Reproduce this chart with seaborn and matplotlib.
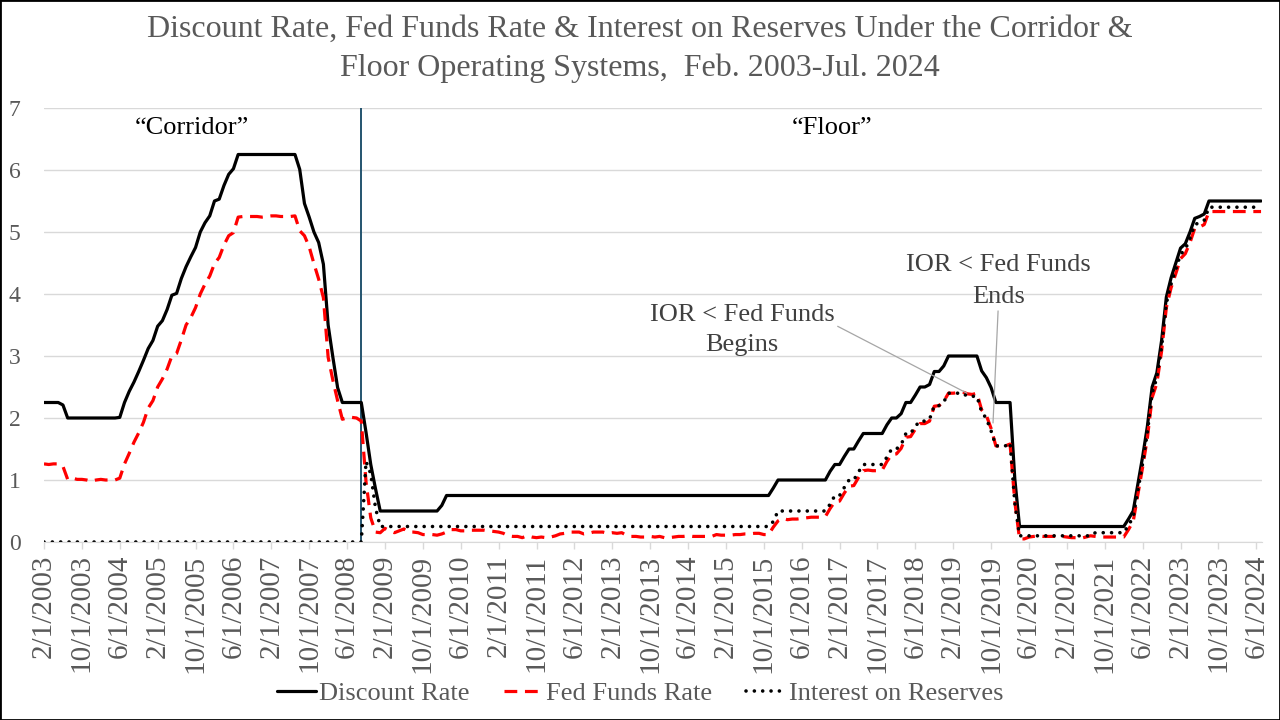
import numpy as np
import pandas as pd
import seaborn as sns
import matplotlib.pyplot as plt
from matplotlib.patches import Rectangle

# monthly averages, Feb 2003 .. Jul 2024
discount = (
    [2.25, 2.25, 2.25, 2.25, 2.21, 2.00, 2.00, 2.00, 2.00, 2.00, 2.00]  # 2003
    + [2.00, 2.00, 2.00, 2.00, 2.00, 2.01, 2.25, 2.43, 2.58, 2.75, 2.93, 3.12]  # 2004
    + [3.25, 3.48, 3.57, 3.75, 3.98, 4.01, 4.25, 4.44, 4.60, 4.75, 5.00, 5.15]  # 2005
    + [5.26, 5.50, 5.53, 5.75, 5.93, 6.02, 6.25, 6.25, 6.25, 6.25, 6.25, 6.25]  # 2006
    + [6.25, 6.25, 6.25, 6.25, 6.25, 6.25, 6.25, 6.01, 5.46, 5.24, 5.00, 4.83]  # 2007
    + [4.48, 3.50, 2.98, 2.49, 2.25, 2.25, 2.25, 2.25, 2.25, 1.77, 1.25, 0.86]  # 2008
    + [0.50] * 12  # 2009
    + [0.50, 0.59] + [0.75] * 10  # 2010
    + [0.75] * 48  # 2011-2014
    + [0.75] * 11 + [0.87]  # 2015
    + [1.00] * 11 + [1.14]  # 2016
    + [1.25, 1.25, 1.38, 1.50, 1.50, 1.63, 1.75, 1.75, 1.75, 1.75, 1.75, 1.89]  # 2017
    + [2.00, 2.00, 2.07, 2.25, 2.25, 2.37, 2.50, 2.50, 2.54, 2.75, 2.75, 2.84]  # 2018
    + [3.00] * 7 + [2.76, 2.65, 2.49, 2.25, 2.25]  # 2019
    + [2.25, 2.25, 1.02] + [0.25] * 9  # 2020
    + [0.25] * 12  # 2021
    + [0.25, 0.25, 0.37, 0.50, 0.94, 1.38, 1.87, 2.50, 2.73, 3.25, 3.95, 4.26]  # 2022
    + [4.50, 4.74, 4.81, 5.00, 5.22, 5.25, 5.29, 5.50, 5.50, 5.50, 5.50, 5.50]  # 2023
    + [5.50] * 7  # 2024
)

fed_funds = (
    [1.26, 1.25, 1.26, 1.26, 1.22, 1.01, 1.03, 1.01, 1.01, 1.00, 0.98]
    + [1.00, 1.01, 1.00, 1.00, 1.00, 1.03, 1.26, 1.43, 1.61, 1.76, 1.93, 2.16]
    + [2.28, 2.50, 2.63, 2.79, 3.00, 3.04, 3.26, 3.50, 3.62, 3.78, 4.00, 4.16]
    + [4.29, 4.49, 4.59, 4.79, 4.94, 4.99, 5.24, 5.25, 5.25, 5.25, 5.25, 5.24]
    + [5.25, 5.26, 5.26, 5.25, 5.25, 5.25, 5.26, 5.02, 4.94, 4.76, 4.49, 4.24]
    + [3.94, 2.98, 2.61, 2.28, 1.98, 2.00, 2.01, 2.00, 1.95, 0.97, 0.39, 0.16]
    + [0.15, 0.22, 0.18, 0.15, 0.18, 0.21, 0.16, 0.16, 0.15, 0.12, 0.12, 0.12]
    + [0.11, 0.13, 0.16, 0.20, 0.20, 0.18, 0.18, 0.19, 0.19, 0.19, 0.19, 0.18]
    + [0.17, 0.16, 0.14, 0.10, 0.09, 0.09, 0.07, 0.10, 0.08, 0.07, 0.08, 0.07]
    + [0.08, 0.10, 0.13, 0.14, 0.16, 0.16, 0.16, 0.13, 0.14, 0.16, 0.16, 0.16]
    + [0.14, 0.15, 0.14, 0.15, 0.11, 0.09, 0.09, 0.08, 0.08, 0.09, 0.08, 0.09]
    + [0.07, 0.07, 0.08, 0.09, 0.09, 0.10, 0.09, 0.09, 0.09, 0.09, 0.09, 0.12]
    + [0.11, 0.11, 0.11, 0.12, 0.12, 0.13, 0.13, 0.14, 0.14, 0.12, 0.12, 0.24]
    + [0.34, 0.38, 0.36, 0.37, 0.37, 0.38, 0.39, 0.40, 0.40, 0.40, 0.41, 0.54]
    + [0.65, 0.66, 0.79, 0.90, 0.91, 1.04, 1.15, 1.16, 1.15, 1.15, 1.16, 1.30]
    + [1.41, 1.42, 1.51, 1.69, 1.70, 1.82, 1.91, 1.91, 1.95, 2.19, 2.20, 2.27]
    + [2.40, 2.40, 2.41, 2.42, 2.39, 2.38, 2.40, 2.13, 2.04, 1.83, 1.55, 1.55]
    + [1.55, 1.58, 0.65, 0.05, 0.05, 0.08, 0.09, 0.10, 0.09, 0.09, 0.09, 0.09]
    + [0.09, 0.08, 0.07, 0.07, 0.06, 0.08, 0.10, 0.09, 0.08, 0.08, 0.08, 0.08]
    + [0.08, 0.08, 0.20, 0.33, 0.77, 1.21, 1.68, 2.33, 2.56, 3.08, 3.78, 4.10]
    + [4.33, 4.57, 4.65, 4.83, 5.06, 5.08, 5.12, 5.33, 5.33, 5.33, 5.33, 5.33]
    + [5.33] * 7
)

ior = (
    [0.0] * 11
    + [0.0] * 48
    + [0.0] * 9 + [1.30, 1.10, 0.55]  # 2008
    + [0.25] * 72  # 2009-2014
    + [0.25] * 11 + [0.33]  # 2015
    + [0.50] * 11 + [0.61]  # 2016
    + [0.75, 0.75, 0.88, 1.00, 1.00, 1.13, 1.25, 1.25, 1.25, 1.25, 1.25, 1.37]
    + [1.50, 1.50, 1.57, 1.75, 1.75, 1.87, 1.95, 1.95, 1.98, 2.20, 2.20, 2.26]
    + [2.40, 2.40, 2.40, 2.40, 2.35, 2.35, 2.35, 2.10, 1.99, 1.79, 1.55, 1.55]
    + [1.55, 1.60, 0.63] + [0.10] * 9  # 2020
    + [0.10] * 7 + [0.15] * 5  # 2021
    + [0.15, 0.15, 0.27, 0.40, 0.84, 1.27, 1.77, 2.40, 2.65, 3.15, 3.85, 4.16]
    + [4.40, 4.64, 4.72, 4.90, 5.12, 5.15, 5.19, 5.40, 5.40, 5.40, 5.40, 5.40]
    + [5.40] * 7
)

months = pd.date_range('2003-02-01', '2024-07-01', freq='MS')
tick_labels = [f'{m.month}/1/{m.year}' for m in months[::8]]

df = pd.DataFrame({'Month': np.arange(len(months)),
                   'Discount Rate': discount,
                   'Fed Funds Rate': fed_funds,
                   'Interest on Reserves': ior})

sns.set_style('white')
plt.rcParams['font.family'] = ['Liberation Serif', 'DejaVu Serif']

fig = plt.figure(figsize=(12.8, 7.2), dpi=100)
ax = fig.add_axes([44 / 1280, 1 - 542 / 720, (1262 - 44) / 1280, (542 - 108) / 720])

grey = '#595959'
sns.lineplot(data=df, x='Month', y='Discount Rate', ax=ax, color='black',
             lw=2.3, label='Discount Rate')
sns.lineplot(data=df, x='Month', y='Fed Funds Rate', ax=ax, color='#FF0000',
             lw=2.3, linestyle=(0, (4, 2.4)), label='Fed Funds Rate')
sns.lineplot(data=df, x='Month', y='Interest on Reserves', ax=ax, color='black',
             lw=2.6, linestyle=(0, (0.01, 2.3)), dash_capstyle='round',
             label='Interest on Reserves')

# corridor -> floor switch
ax.plot([67, 67], [0, 7], color='#24546F', lw=1.4, zorder=1)

ax.set_xlim(0, len(months) - 0.8)
ax.set_ylim(0, 7)
ax.set_yticks(range(8))
ax.set_xticks(np.arange(0, len(months), 8))
ax.set_xticklabels(tick_labels, rotation=90)
ax.set_xlabel('')
ax.set_ylabel('')
ax.grid(axis='y', color='#D9D9D9', lw=1)
for s in ['left', 'right', 'top']:
    ax.spines[s].set_visible(False)
ax.spines['bottom'].set_color('#D9D9D9')
ax.tick_params(axis='x', colors=grey, labelsize=21, length=5, width=1,
               color='#D9D9D9', pad=4, direction='out', bottom=True)
ax.tick_params(axis='y', colors=grey, labelsize=17, length=0, pad=17)

ax.text(31.3, 6.68, '\u201cCorridor\u201d', ha='center', va='center', fontsize=19, color='black')
ax.text(166.4, 6.68, '\u201cFloor\u201d', ha='center', va='center', fontsize=19, color='black')

ax.annotate('IOR < Fed Funds\nBegins', xy=(194.9, 2.40), xytext=(147.4, 3.42),
            ha='center', va='center', fontsize=19, color='#404040', linespacing=1.5,
            arrowprops=dict(arrowstyle='-', color='#A6A6A6', lw=0.9,
                            shrinkA=0, shrinkB=0, relpos=(0.99, 0.62)))
ax.annotate('IOR < Fed Funds\nEnds', xy=(200.4, 1.92), xytext=(201.5, 4.21),
            ha='center', va='center', fontsize=19, color='#404040', linespacing=1.55,
            arrowprops=dict(arrowstyle='-', color='#A6A6A6', lw=0.9,
                            shrinkA=0, shrinkB=0, relpos=(0.5, 0.0)))

fig.text(0.5, 1 - 49 / 720,
         'Discount Rate, Fed Funds Rate & Interest on Reserves Under the Corridor &\n'
         'Floor Operating Systems,  Feb. 2003-Jul. 2024',
         ha='center', va='center', fontsize=23, color=grey, linespacing=1.4)

ax.get_legend().remove()
h, l = ax.get_legend_handles_labels()
leg = fig.legend(h, l, loc='center', bbox_to_anchor=(0.5, 1 - 693 / 720), ncol=3,
                 frameon=False, fontsize=19, handlelength=1.5, handletextpad=0.1,
                 columnspacing=1.3)
for t in leg.get_texts():
    t.set_color(grey)

fig.patches.append(Rectangle((0, 0), 1, 1, transform=fig.transFigure, fill=False,
                             edgecolor='black', lw=2))

plt.savefig('out.png', dpi=100)
